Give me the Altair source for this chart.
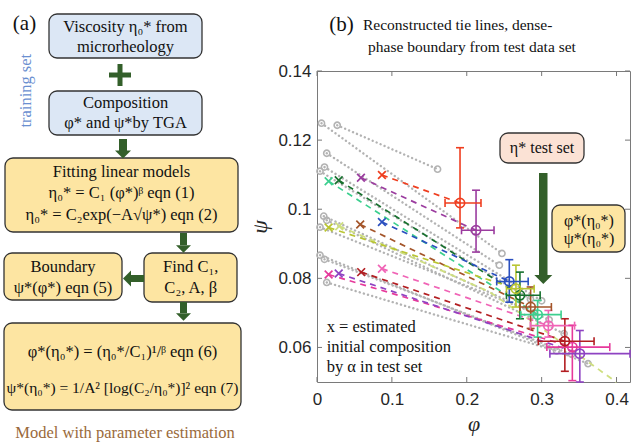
import altair as alt
import pandas as pd

# ---------------- panel (b) data ----------------
series = ["red", "purple", "dkgreen", "teal", "blue", "brown", "olive",
          "magenta", "violet", "darkred", "pink"]
colors = ["#ef3e1f", "#9b3c9f", "#17702e", "#3ccf8f", "#2b50bf", "#a4552a", "#b9c531",
          "#e6399b", "#8e43c2", "#b31e22", "#f064b6"]
# estimated initial composition (x markers)
x0_phi = [0.0867, 0.0587, 0.029, 0.0155, 0.0867, 0.0577, 0.0155, 0.0155, 0.029, 0.059, 0.0867]
x0_psi = [0.1099, 0.1091, 0.1084, 0.1081, 0.0963, 0.0956, 0.0947, 0.0811, 0.0814, 0.0818, 0.0828]
# reconstructed dense-phase points with error bars
est_phi = [0.191, 0.2124, 0.271, 0.2946, 0.2568, 0.2853, 0.2657, 0.341, 0.351, 0.331, 0.309]
est_psi = [0.1018, 0.0939, 0.0751, 0.0695, 0.0791, 0.0717, 0.077, 0.0601, 0.0582, 0.0618, 0.0663]
phi_lo = [0.171, 0.193, 0.253, 0.272, 0.240, 0.271, 0.253, 0.307, 0.311, 0.2955, 0.285]
phi_hi = [0.219, 0.2364, 0.298, 0.326, 0.282, 0.313, 0.290, 0.391, 0.418, 0.370, 0.344]
psi_lo = [0.0946, 0.0876, 0.0683, 0.0630, 0.0731, 0.0655, 0.0717, 0.0504, 0.0500, 0.0531, 0.0630]
psi_hi = [0.1178, 0.1055, 0.0818, 0.0736, 0.0854, 0.0775, 0.0838, 0.0664, 0.0649, 0.0683, 0.0707]

# dense-phase boundary
bnd_phi = [0.0297, 0.111, 0.231, 0.298, 0.400]
bnd_psi = [0.0951, 0.0876, 0.076, 0.0659, 0.0499]

# training tie lines (grey dotted)
tie_phi_l = [0.006, 0.027, 0.013, 0.010, 0.004, 0.009, 0.013, 0.004, 0.004, 0.010, 0.013]
tie_psi_l = [0.1249, 0.1243, 0.1162, 0.1122, 0.1110, 0.0980, 0.0968, 0.0948, 0.0867, 0.0855, 0.0788]
tie_phi_r = [0.247, 0.161, 0.2435, 0.300, 0.285, 0.310, 0.330, 0.290, 0.362, 0.340, 0.320]
tie_psi_r = [0.0872, 0.1116, 0.0838, 0.0735, 0.0740, 0.0680, 0.0640, 0.0700, 0.0553, 0.0580, 0.0590]

x_ticks = [0, 0.1, 0.2, 0.3, 0.4]
y_ticks = [0.06, 0.08, 0.1, 0.12, 0.14]

# ---------------- layout ----------------
W, H = 313, 311
OX, OY = 317, 71
SERIF = "Liberation Serif, Times New Roman, serif"
SANS = "Liberation Sans, Arial, sans-serif"
BLUE, YEL, PEACH = "#dce7f5", "#fde5a2", "#fbe2d5"
GREEN = "#335f2a"

xs = alt.Scale(domain=[0, 0.418], nice=False, zero=False)
ys = alt.Scale(domain=[0.05, 0.14], nice=False, zero=False)
XAX = alt.Axis(values=x_ticks, format="~g", tickSize=0, domain=False, grid=False,
               labelFont=SANS, labelFontSize=17, labelColor="#262626", labelPadding=9,
               labelFlush=False, labelOverlap=False,
               title="φ", titleFont=SERIF, titleFontStyle="italic", titleFontSize=22,
               titleFontWeight="normal", titlePadding=6, titleColor="#262626")
YAX = alt.Axis(values=y_ticks, format="~g", tickSize=0, domain=False, grid=False,
               labelFont=SANS, labelFontSize=17, labelColor="#262626", labelPadding=6,
               labelFlush=False, labelOverlap=False,
               title="ψ", titleFont=SERIF, titleFontStyle="italic", titleFontSize=22,
               titleFontWeight="normal", titlePadding=6, titleColor="#262626")
col = alt.Color("series:N", scale=alt.Scale(domain=series, range=colors), legend=None)

# tables
ties = pd.DataFrame({
    "id": list(range(len(tie_phi_l))) * 2,
    "phi": tie_phi_l + tie_phi_r,
    "psi": tie_psi_l + tie_psi_r,
})
pts = pd.DataFrame({"series": series, "x0": x0_phi, "y0": x0_psi, "phi": est_phi, "psi": est_psi,
                    "plo": phi_lo, "phi_hi": phi_hi, "slo": psi_lo, "shi": psi_hi})
tl = pd.DataFrame({"series": series * 2, "phi": x0_phi + est_phi, "psi": x0_psi + est_psi,
                   "o": [0] * len(series) + [1] * len(series)})
bnd = pd.DataFrame({"phi": bnd_phi, "psi": bnd_psi})
capv = pd.DataFrame({"series": series * 2, "phi": est_phi * 2, "psi": psi_lo + psi_hi})
caph = pd.DataFrame({"series": series * 2, "phi": phi_lo + phi_hi, "psi": est_psi * 2})
xt = pd.DataFrame({"v": x_ticks})
yt = pd.DataFrame({"v": y_ticks})

X = lambda f: alt.X(f, scale=xs, axis=XAX)
Y = lambda f: alt.Y(f, scale=ys, axis=YAX)

gray_lines = alt.Chart(ties).mark_line(color="#b3b3b3", strokeWidth=2.4, strokeDash=[0.1, 4.2],
                                        strokeCap="round").encode(X("phi:Q"), Y("psi:Q"), detail="id:N")
gray_pts = alt.Chart(ties).mark_point(shape="circle", filled=False, color="#b3b3b3", size=38,
                                      strokeWidth=1.6, opacity=1).encode(X("phi:Q"), Y("psi:Q"))
bnd_line = alt.Chart(bnd).mark_line(color="#cfdf80", strokeWidth=1.8, strokeDash=[6, 5]).encode(
    X("phi:Q"), Y("psi:Q"))
bnd_x = alt.Chart(bnd.head(1)).mark_point(shape="M-1,-1L1,1M-1,1L1,-1", filled=False, size=60,
                                          strokeWidth=1.7, opacity=1, color="#cfdf80").encode(
    X("phi:Q"), Y("psi:Q"))
tie_dash = alt.Chart(tl).mark_line(strokeWidth=1.7, strokeDash=[6, 5]).encode(
    X("phi:Q"), Y("psi:Q"), col, order="o:Q")
xmark = alt.Chart(pts).mark_point(shape="M-1,-1L1,1M-1,1L1,-1", filled=False, size=60,
                                  strokeWidth=1.7, opacity=1).encode(X("x0:Q"), Y("y0:Q"), col)
ebv = alt.Chart(pts).mark_rule(strokeWidth=1.6).encode(X("phi:Q"), Y("slo:Q"), y2="shi:Q", color=col)
ebh = alt.Chart(pts).mark_rule(strokeWidth=1.6).encode(X("plo:Q"), x2="phi_hi:Q", y=Y("psi:Q"), color=col)
cv = alt.Chart(capv).mark_tick(orient="horizontal", size=8, thickness=1.6, opacity=1).encode(
    X("phi:Q"), Y("psi:Q"), col)
ch = alt.Chart(caph).mark_tick(orient="vertical", size=8, thickness=1.6, opacity=1).encode(
    X("phi:Q"), Y("psi:Q"), col)
circ = alt.Chart(pts).mark_point(shape="circle", filled=False, size=85, strokeWidth=1.7,
                                 opacity=1).encode(X("phi:Q"), Y("psi:Q"), col)

TK = "#777777"
tk_b = alt.Chart(xt).mark_rule(color=TK).encode(X("v:Q"), y=alt.value(H), y2=alt.value(H - 5))
tk_t = alt.Chart(xt).mark_rule(color=TK).encode(X("v:Q"), y=alt.value(0), y2=alt.value(5))
tk_l = alt.Chart(yt).mark_rule(color=TK).encode(Y("v:Q"), x=alt.value(0), x2=alt.value(5))
tk_r = alt.Chart(yt).mark_rule(color=TK).encode(Y("v:Q"), x=alt.value(W - 5), x2=alt.value(W))

# ---------------- annotation / flowchart layout (page pixels) ----------------
box_x1 = [49, 49, 5, 4, 144, 4, 500, 552]
box_y1 = [14, 91, 158, 253, 253, 323, 133, 205]
box_x2 = [202, 202, 238, 122, 237, 241, 584, 625]
box_y2 = [58, 135, 232, 300, 302, 410, 163, 252]
box_fill = [BLUE, BLUE, YEL, YEL, YEL, YEL, PEACH, YEL]
boxes = pd.DataFrame({"x1": [v - OX for v in box_x1], "x2": [v - OX for v in box_x2],
                      "y1": [v - OY for v in box_y1], "y2": [v - OY for v in box_y2], "f": box_fill})

sh_x1 = [109, 117.5, 119, 180, 131, 180, 539]
sh_y1 = [72.5, 64, 139, 233, 275, 302, 173]
sh_x2 = [131, 122.5, 127, 187, 144, 187, 547.5]
sh_y2 = [77.5, 86, 151, 245, 282, 313, 275]
shafts = pd.DataFrame({"x1": [v - OX for v in sh_x1], "x2": [v - OX for v in sh_x2],
                       "y1": [v - OY for v in sh_y1], "y2": [v - OY for v in sh_y2]})
hd_x = [123, 183.5, 183.5, 543.3]
hd_y = [154.5, 249, 317, 279.5]
hd_s = [256, 225, 225, 324]
heads_d = pd.DataFrame({"x": [v - OX for v in hd_x], "y": [v - OY for v in hd_y], "s": hd_s})
heads_l = pd.DataFrame({"x": [127 - OX], "y": [278.5 - OY], "s": [256]})

tc = [
    (125.5, 26.7, "Viscosity η₀* from", 16.5, "#111", 0),
    (125.5, 46.7, "microrheology", 16.5, "#111", 0),
    (125.5, 103.3, "Composition", 16.5, "#111", 0),
    (125.5, 123.3, "φ* and ψ*by TGA", 16.5, "#111", 0),
    (121.5, 171.7, "Fitting linear models", 16.5, "#111", 0),
    (121.5, 193.3, "η₀* = C₁ (φ*)ᵝ eqn (1)", 16.5, "#111", 0),
    (121.5, 214.5, "η₀* = C₂exp(−A√ψ*) eqn (2)", 16.5, "#111", 0),
    (63, 266.7, "Boundary", 16.5, "#111", 0),
    (63, 288.3, "ψ*(φ*) eqn (5)", 16.5, "#111", 0),
    (190.7, 266.7, "Find C₁,", 16.5, "#111", 0),
    (190.7, 288.3, "C₂, A, β", 16.5, "#111", 0),
    (122.5, 351.7, "φ*(η₀*) = (η₀*/C₁)¹/ᵝ eqn (6)", 16.5, "#111", 0),
    (122.5, 388.3, "ψ*(η₀*) = 1/A² [log(C₂/η₀*)]² eqn (7)", 15.5, "#111", 0),
    (125, 432.5, "Model with parameter estimation", 16.5, "#9a6a3b", 0),
    (24.5, 24, "(a)", 21, "#111", 0),
    (26, 90.7, "training set", 16.5, "#6a8fd0", 270),
    (542, 148, "η* test set", 16, "#111", 0),
    (589, 220.7, "φ*(η₀*)", 16, "#111", 0),
    (589, 239.3, "ψ*(η₀*)", 16, "#111", 0),
    (341.5, 25, "(b)", 21, "#111", 0),
]
tlft = [
    (363, 25, "Reconstructed tie lines, dense-", 15.5, "#111", 0),
    (368, 47, "phase boundary from test data set", 15.5, "#111", 0),
    (326.7, 327, "x = estimated", 16.5, "#111", 0),
    (326.7, 347, "initial composition", 16.5, "#111", 0),
    (326.7, 367, "by α in test set", 16.5, "#111", 0),
]


def tdf(rows):
    return pd.DataFrame({"x": [r[0] - OX for r in rows], "y": [r[1] - OY for r in rows],
                         "t": [r[2] for r in rows], "fs": [r[3] for r in rows],
                         "c": [r[4] for r in rows], "a": [r[5] for r in rows]})


PX = lambda f: alt.X(f, scale=None, axis=None)
PY = lambda f: alt.Y(f, scale=None, axis=None)

box_l = alt.Chart(boxes).mark_rect(cornerRadius=8, stroke="#333333", strokeWidth=1.3).encode(
    PX("x1:Q"), x2="x2:Q", y=PY("y1:Q"), y2="y2:Q", fill=alt.Fill("f:N", scale=None))
shaft_l = alt.Chart(shafts).mark_rect(color=GREEN).encode(PX("x1:Q"), x2="x2:Q", y=PY("y1:Q"), y2="y2:Q")
head_d = alt.Chart(heads_d).mark_point(shape="M-1,-0.5L1,-0.5L0,0.5Z", filled=True, color=GREEN,
                                       opacity=1, strokeWidth=0).encode(
    PX("x:Q"), PY("y:Q"), size=alt.Size("s:Q", scale=None))
head_l = alt.Chart(heads_l).mark_point(shape="M0.5,-1L0.5,1L-0.5,0Z", filled=True, color=GREEN,
                                       opacity=1, strokeWidth=0).encode(
    PX("x:Q"), PY("y:Q"), size=alt.Size("s:Q", scale=None))


def text_layer(rows, align):
    return alt.Chart(tdf(rows)).mark_text(font=SERIF, baseline="middle", align=align).encode(
        PX("x:Q"), PY("y:Q"), text="t:N", size=alt.Size("fs:Q", scale=None),
        color=alt.Color("c:N", scale=None), angle=alt.Angle("a:Q", scale=None))


txt_c = text_layer(tc, "center")
txt_l = text_layer(tlft, "left")

chart = alt.layer(
    gray_lines, gray_pts, bnd_line, bnd_x, tie_dash, xmark, ebv, ebh, cv, ch, circ,
    tk_b, tk_t, tk_l, tk_r,
    box_l, shaft_l, head_d, head_l, txt_c, txt_l,
).properties(
    width=W, height=H,
    autosize=alt.AutoSizeParams(type="none"),
    padding={"left": OX, "top": OY, "right": 631 - OX - W, "bottom": 443 - OY - H},
    background="white",
).configure_view(stroke="#7a7a7a", strokeWidth=1)

chart.save("out.html", embed_options={"renderer": "svg", "actions": False})
